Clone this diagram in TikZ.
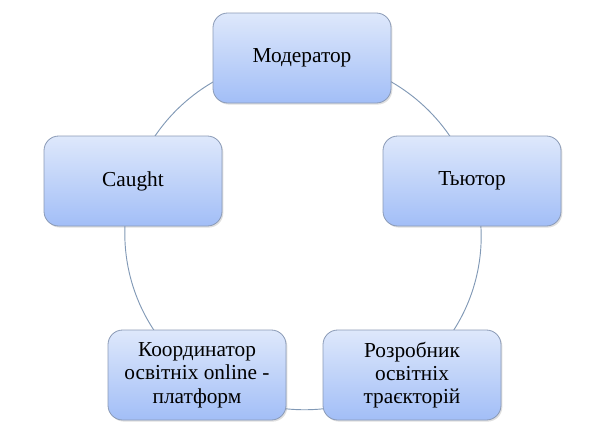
\documentclass[tikz,border=0pt]{standalone}
\usepackage{fontspec}
\setmainfont{Liberation Serif}
\newfontfamily\rolefont{Liberation Serif}
\usepackage{tikz}
\usetikzlibrary{backgrounds,shadows}
\definecolor{boxtop}{HTML}{DEE8FB}
\definecolor{boxbottom}{HTML}{A2BEF7}
\definecolor{boxline}{HTML}{8A9AB6}
\definecolor{ringline}{HTML}{8199B6}
\tikzset{
    role/.style={
        draw=boxline,
        line width=0.6pt,
        rounded corners=11pt,
        top color=boxtop,
        bottom color=boxbottom,
        minimum width=133.5pt,
        minimum height=67.5pt,
        align=center,
        font=\rolefont\fontsize{16}{17.5}\selectfont,
        drop shadow={opacity=0.25, shadow xshift=1pt, shadow yshift=-1.2pt}
    },
    ring/.style={
        draw=ringline,
        line width=0.7pt,
        looseness=0.94
    }
}

\begin{document}
\begin{tikzpicture}[x=0.75pt, y=-0.75pt]
    \useasboundingbox (0,0) rectangle (614,440);
    % Roles
    \node[role] (moder) at (302,58) {Модератор};
    \node[role] (tutor) at (472,181) {Тьютор};
    \node[role] (caught) at (133,181) {Caught};
    \node[role] (koord) at (197,375) {Координатор\\освітніх online -\\платформ};
    \node[role] (rozrob) at (412,375) {Розробник\\освітніх\\траєкторій};

    % Ring
    \begin{pgfonlayer}{background}
    \draw[ring] (moder.center) to[bend left=36] (tutor.center);
    \draw[ring] (tutor.center) to[bend left=36] (rozrob.center);
    \draw[ring] (rozrob.center) to[bend left=36] (koord.center);
    \draw[ring] (koord.center) to[bend left=36] (caught.center);
    \draw[ring] (caught.center) to[bend left=36] (moder.center);
    \end{pgfonlayer}
\end{tikzpicture}
\end{document}
